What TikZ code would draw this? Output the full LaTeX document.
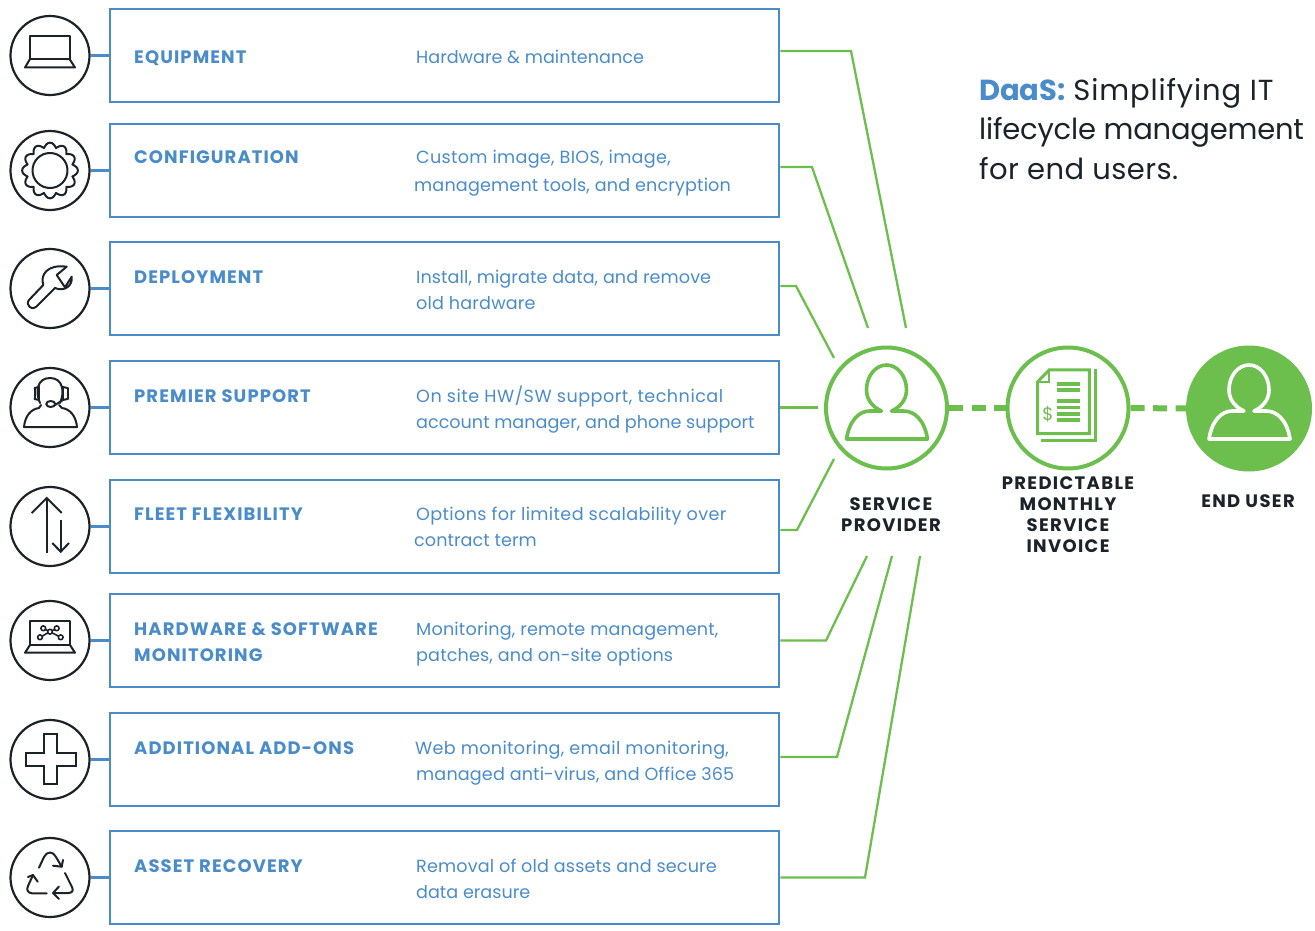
\documentclass[tikz,border=0pt]{standalone}
\usepackage{fontspec}
\setmainfont{Poppins}
\newcommand{\ls}[1]{\addfontfeature{LetterSpace=#1}}
\definecolor{bl}{HTML}{4A8CCA}
\definecolor{gr}{HTML}{6CBE4D}
\definecolor{dk}{HTML}{1B2228}
\tikzset{
  x=1pt,y=-1pt,
  rowbox/.style={draw=bl,line width=2.6pt,minimum width=669pt,minimum height=93pt,inner sep=0pt},
  iconring/.style={circle,draw=dk,line width=2.2pt,minimum size=79pt,inner sep=0pt},
  link/.style={bl,line width=2.6pt},
  glink/.style={gr,line width=2.3pt},
  gdash/.style={gr,line width=6pt,dash pattern=on 14pt off 8.5pt},
  ring/.style={circle,draw=gr,line width=4pt,minimum size=121pt,inner sep=0pt},
  ttl/.style={anchor=base west,inner sep=0pt,text=bl,font=\fontsize{18}{26}\selectfont\bfseries\ls{6}},
  dsc/.style={anchor=base west,inner sep=0pt,text=bl,font=\fontsize{17.6}{26}\selectfont},
  captxt/.style={anchor=base,inner sep=0pt,text=dk,font=\fontsize{18}{21}\selectfont\bfseries\ls{7.5}},
  headtxt/.style={anchor=base west,inner sep=0pt,text=dk,font=\fontsize{29}{39}\selectfont},
  ico/.style={dk,line width=2pt,line join=round,line cap=round},
  personicon/.pic={
    \draw[pic actions,line width=3.6pt,line join=round]
      (-40,31) .. controls (-37,12) and (-27,3) .. (-17,3) -- (-5,3)
      .. controls (-12,0) and (-20,-7) .. (-20,-18)
      .. controls (-20,-32) and (-11,-43) .. (0,-43)
      .. controls (11,-43) and (20,-32) .. (20,-18)
      .. controls (20,-7) and (12,0) .. (5,3) -- (17,3)
      .. controls (28,3) and (38,12) .. (41,31) -- cycle;
  }
}
\begin{document}
\begin{tikzpicture}
\useasboundingbox (0,0) rectangle (1315,931);
% rows
\foreach \n/\y in {1/55.5,2/170.5,3/288.5,4/407.5,5/526.5,6/640.5,7/759.5,8/877.5}{
  \node[rowbox] (b\n) at (444.5,\y) {};
  \node[iconring] (c\n) at (50,\y) {};
  \draw[link] (c\n) -- (b\n);
}
% row texts
\node[ttl] (t1) at (134,63.5) {EQUIPMENT};
\node[dsc] (d1) at (416,63.5) {Hardware \& maintenance};
\node[ttl] (t2) at (134,164) {CONFIGURATION};
\node[dsc] (d2a) at (416,164) {\ls{1.7}Custom image, BIOS, image,};
\node[dsc] (d2b) at (414,191) {\ls{0.9}management tools, and encryption};
\node[ttl] (t3) at (134,283) {DEPLOYMENT};
\node[dsc] (d3a) at (416,283) {\ls{0.5}Install, migrate data, and remove};
\node[dsc] (d3b) at (416,309) {\ls{1}old hardware};
\node[ttl] (t4) at (134,402) {PREMIER SUPPORT};
\node[dsc] (d4a) at (416,402) {\ls{2.8}On site HW/SW support, technical};
\node[dsc] (d4b) at (416,428) {account manager, and phone support};
\node[ttl] (t5) at (134,520) {FLEET FLEXIBILITY};
\node[dsc] (d5a) at (416,520) {\ls{2.1}Options for limited scalability over};
\node[dsc] (d5b) at (414,546) {\ls{0.4}contract term};
\node[ttl] (t6a) at (134,635) {HARDWARE \& SOFTWARE};
\node[ttl] (t6b) at (134,661) {MONITORING};
\node[dsc] (d6a) at (416,635) {\ls{1.1}Monitoring, remote management,};
\node[dsc] (d6b) at (416,661) {\ls{0.8}patches, and on-site options};
\node[ttl] (t7) at (134,754) {ADDITIONAL ADD-ONS};
\node[dsc] (d7a) at (415,754) {\ls{1.9}Web monitoring, email monitoring,};
\node[dsc] (d7b) at (416,780) {\ls{0.8}managed anti-virus, and Office 365};
\node[ttl] (t8) at (134,872) {ASSET RECOVERY};
\node[dsc] (d8a) at (416,872) {\ls{0.9}Removal of old assets and secure};
\node[dsc] (d8b) at (416,898) {data erasure};
% right circles
\node[ring] (sp) at (886.5,408) {};
\node[ring] (inv) at (1068,408) {};
\node[ring,fill=gr,minimum size=122pt] (eu) at (1249,408.5) {};
\draw[gdash] (sp) -- (inv);
\draw[gdash] (inv) -- (eu);
\pic[gr] at (886.5,408) {personicon};
\pic[white] at (1249,408) {personicon};
% free ends
\coordinate (e1) at (906,328);
\coordinate (e2) at (868,328);
\coordinate (e3) at (834,358);
\coordinate (e4) at (818,407.5);
\coordinate (e5) at (834,459);
\coordinate (e6) at (867,556);
\coordinate (e7) at (892,556);
\coordinate (e8) at (920,556);
\draw[glink] ([yshift=4.5pt]b1.east) -- (851,51) -- (e1);
\draw[glink] ([yshift=3.5pt]b2.east) -- (812,167) -- (e2);
\draw[glink] ([yshift=2.5pt]b3.east) -- (796,286) -- (e3);
\draw[glink] (b4.east) -- (e4);
\draw[glink] ([yshift=-3.5pt]b5.east) -- (797,530) -- (e5);
\draw[glink] (b6.east) -- (826,640.5) -- (e6);
\draw[glink] ([yshift=2.5pt]b7.east) -- (837,757) -- (e7);
\draw[glink] (b8.east) -- (865,877.5) -- (e8);
% right text
\node[headtxt] (h1) at (979,101) {\textcolor{bl}{\bfseries DaaS:} {\ls{3}Simplifying IT}};
\node[headtxt] (h2) at (979,140) {\ls{-0.7}lifecycle management};
\node[headtxt] (h3) at (979,179) {\ls{1.5}for end users.};
\node[captxt] (s1) at (891,510) {SERVICE};
\node[captxt] (s2) at (891,531) {PROVIDER};
\node[captxt] (p1) at (1068,489) {PREDICTABLE};
\node[captxt] (p2) at (1068,510) {MONTHLY};
\node[captxt] (p3) at (1068,531) {SERVICE};
\node[captxt] (p4) at (1068,552) {INVOICE};
\node[captxt] (u1) at (1248,507) {END USER};
% invoice icon
\draw[gr,line width=3pt,line join=miter] (1049.3,369.8) -- (1089.3,369.8) -- (1089.3,433.7) -- (1037.7,433.7) -- (1037.7,381.7) -- cycle;
\draw[gr,line width=2pt] (1049.3,369.8) -- (1049.3,381.7) -- (1037.7,381.7);
\draw[gr,line width=3pt] (1095,369.3) -- (1095,440) -- (1040.7,440);
\foreach \yy in {384,390,400.7,407.3,413.7,420}{
  \draw[gr,line width=3.6pt] (1056.7,\yy) -- (1080,\yy);
}
\node[inner sep=0pt,text=gr,font=\fontsize{18}{18}\selectfont] (dollar) at (1048,414) {\$};
% laptop
\draw[ico] (30,36) rectangle (69.5,59);
\draw[ico] (30,59) -- (25,67.5) -- (75,67.5) -- (69.5,59);
% gear
\draw[ico,line width=2pt] (50,170.5) circle[radius=17.5];
\draw[ico,line width=2pt,samples=241,domain=0:360] plot ({50+(23.2+4.6*abs(cos(6*\x)))*cos(\x)},{170.5+(23.2+4.6*abs(cos(6*\x)))*sin(\x)}) -- cycle;
% wrench
\draw[ico] (43.3,285) .. controls (40,275) and (47,264) .. (66.7,266.7) -- (56.7,275) -- (65,287.3)
  -- (71.7,276.7) .. controls (73,286) and (64,292) .. (55,288) -- (36,307)
  .. controls (32,311) and (25,305) .. (29,300) -- cycle;
% headset
\draw[ico] (40,403) .. controls (35,392) and (37,378) .. (50,378) .. controls (63,378) and (65,392) .. (60,403);
\draw[ico] (24,427) .. controls (25,416) and (31,409) .. (39,408) -- (41,405);
\draw[ico] (24,427) -- (77,427) .. controls (76,416) and (70,409) .. (62,408) -- (59,405);
\draw[ico] (34.5,388) -- (34.5,399) (39,387) -- (39,400);
\draw[ico] (63,387) -- (63,400) (67.5,388) -- (67.5,399);
\draw[ico] (34.5,388) -- (39,387) (34.5,399) -- (39,400) (63,387) -- (67.5,388) (63,400) -- (67.5,399);
\draw[ico] (50.7,404) ellipse[x radius=4.5,y radius=3];
\draw[ico] (55,405) -- (63,400);
% arrows
\draw[dk,line width=2.4pt] (46.7,552.7) -- (46.7,498);
\draw[dk,line width=2pt] (31.7,513) -- (46.7,498) -- (61.7,513);
\draw[dk,line width=2.4pt] (60.7,520) -- (60.7,551.7);
\draw[dk,line width=2pt] (52.3,543) -- (60.7,551.7) -- (69,543);
% laptop 2
\draw[ico] (30,621) rectangle (70,645);
\draw[ico] (30,645) -- (25,652.7) -- (75,652.7) -- (70,645);
\draw[ico,line width=1.6pt] (40,637.3) -- (50,631.7) -- (60.7,637.3) (43.3,628.3) -- (50,631.7) -- (56.7,628.3);
\foreach \px/\py in {40/637.3,43.3/628.3,50/631.7,56.7/628.3,60.7/637.3}{
  \draw[ico,line width=1.6pt,fill=white] (\px,\py) circle[radius=2.4];
}
% plus
\draw[ico,line cap=butt,line join=miter] (44,734) -- (57,734) -- (57,752.5) -- (75.5,752.5) -- (75.5,765.5) -- (57,765.5) -- (57,784) -- (44,784) -- (44,765.5) -- (25.5,765.5) -- (25.5,752.5) -- (44,752.5) -- cycle;
% recycle
\draw[ico] (39,867.7) -- (44,857) .. controls (47,851) and (53,851) .. (56,857) -- (61.7,866.7);
\draw[ico] (63,860) -- (61.7,866.7) -- (53,865.7);
\draw[ico] (65,873) -- (72,887) .. controls (74,891) and (72,893) .. (68,893) -- (53,893);
\draw[ico] (59,886.5) -- (53,893) -- (59,899);
\draw[ico] (46.7,893.3) -- (32,893.3) .. controls (28,893) and (26,890) .. (28,886) -- (33,875);
\draw[ico] (28,877) -- (33,875) -- (37.7,881.7);
\end{tikzpicture}
\end{document}
